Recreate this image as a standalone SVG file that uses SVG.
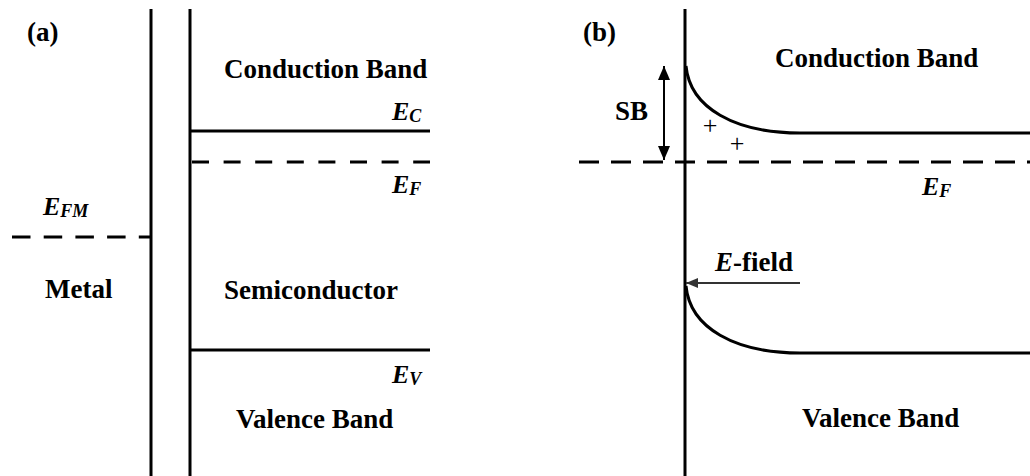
<svg xmlns="http://www.w3.org/2000/svg" width="1030" height="476" viewBox="0 0 1030 476">
  <style>
    .ln { stroke: #000; stroke-width: 3; fill: none; }
    .dash { stroke: #000; stroke-width: 3; fill: none; stroke-dasharray: 18.5 13.2; }
    .lbl { font-family: "Liberation Serif", "Times New Roman", serif; font-weight: bold; font-size: 27px; fill: #000; }
    .ei { font-family: "Liberation Serif", "Times New Roman", serif; font-weight: bold; font-style: italic; font-size: 26px; fill: #000; }
    .sub { font-size: 18px; }
    .plus { font-family: "Liberation Serif", "Times New Roman", serif; font-size: 26px; fill: #000; }
    .arr { stroke: #000; stroke-width: 2; fill: none; }
  </style>
  <defs>
    <marker id="ah" viewBox="0 0 14 12" refX="14" refY="6" markerWidth="14" markerHeight="12" markerUnits="userSpaceOnUse" orient="auto-start-reverse">
      <path d="M0,0 L14,6 L0,12 Z" fill="#000"/>
    </marker>
    <marker id="ah2" viewBox="0 0 12 10" refX="12" refY="5" markerWidth="12" markerHeight="10" markerUnits="userSpaceOnUse" orient="auto">
      <path d="M0,0 L12,5 L0,10 Z" fill="#333"/>
    </marker>
  </defs>

  <!-- Panel (a) -->
  <g id="panel-a-label"><text class="lbl" x="27" y="41">(a)</text></g>
  <g id="metal">
    <line class="ln" x1="151" y1="9" x2="151" y2="476"/>
    <line class="dash" x1="12" y1="237" x2="151" y2="237"/>
    <text class="ei" x="43" y="215">E<tspan class="sub" dy="2">FM</tspan></text>
    <text class="lbl" x="45" y="298">Metal</text>
  </g>
  <g id="semiconductor">
    <line class="ln" x1="190" y1="9" x2="190" y2="476"/>
    <text class="lbl" x="224" y="78">Conduction Band</text>
    <line class="ln" x1="190" y1="131" x2="430" y2="131"/>
    <text class="ei" x="392" y="120">E<tspan class="sub" dy="2">C</tspan></text>
    <line class="dash" x1="192" y1="162" x2="430" y2="162" style="stroke-dasharray:17 14.6"/>
    <text class="ei" x="392" y="193">E<tspan class="sub" dy="2">F</tspan></text>
    <text class="lbl" x="224" y="299">Semiconductor</text>
    <line class="ln" x1="190" y1="350" x2="430" y2="350"/>
    <text class="ei" x="392" y="383">E<tspan class="sub" dy="2">V</tspan></text>
    <text class="lbl" x="236" y="428">Valence Band</text>
  </g>

  <!-- Panel (b) -->
  <g id="panel-b-label"><text class="lbl" x="583" y="41">(b)</text></g>
  <g id="interface-b">
    <line class="ln" x1="685" y1="9" x2="685" y2="476"/>
  </g>
  <g id="conduction-band-b">
    <text class="lbl" x="775" y="67">Conduction Band</text>
    <path class="ln" d="M686,66 C690,108 735,133 800,133 L1030,133"/>
    <text class="plus" x="710" y="134" text-anchor="middle">+</text>
    <text class="plus" x="737" y="152" text-anchor="middle">+</text>
  </g>
  <g id="fermi-b">
    <line class="dash" x1="579" y1="162" x2="1030" y2="162" style="stroke-dasharray:20 12"/>
    <text class="ei" x="922" y="195">E<tspan class="sub" dy="2">F</tspan></text>
  </g>
  <g id="sb-label">
    <text class="lbl" x="615" y="120">SB</text>
  </g>
  <g id="efield-label">
    <text class="lbl" x="715" y="271"><tspan font-style="italic">E</tspan>-field</text>
  </g>
  <g id="valence-band-b">
    <path class="ln" d="M686,286 C690,328 735,353 800,353 L1030,353"/>
    <text class="lbl" x="802" y="427">Valence Band</text>
  </g>

  <g id="connectors">
    <line class="arr" x1="664" y1="66" x2="664" y2="160" marker-start="url(#ah)" marker-end="url(#ah)"/>
    <line x1="800" y1="283" x2="686" y2="283" stroke="#333" stroke-width="2" marker-end="url(#ah2)"/>
  </g>
</svg>
